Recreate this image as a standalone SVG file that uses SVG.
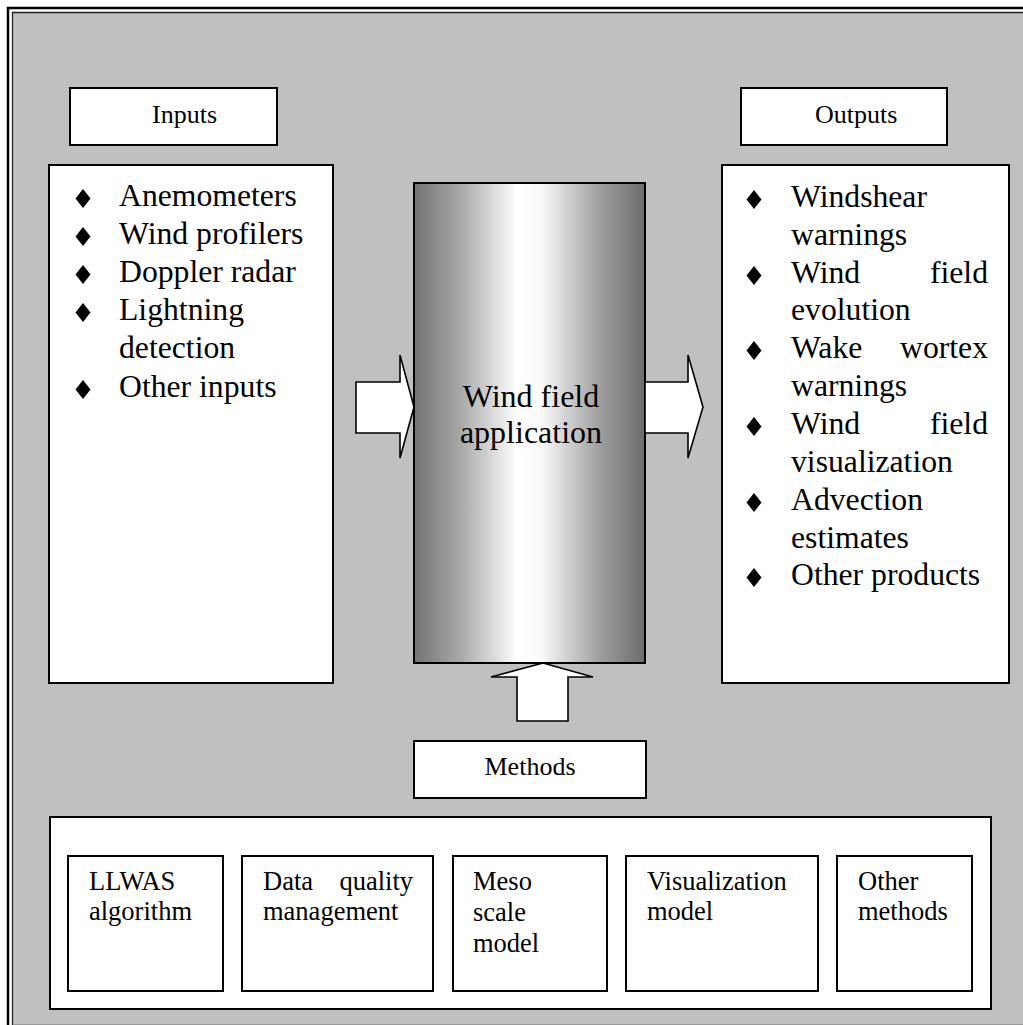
<svg xmlns="http://www.w3.org/2000/svg" width="1023" height="1025" viewBox="0 0 1023 1025">
<defs>
<linearGradient id="cyl" x1="0" y1="0" x2="1" y2="0">
<stop offset="0" stop-color="#737373"/>
<stop offset="0.2" stop-color="#a8a8a8"/>
<stop offset="0.45" stop-color="#ffffff"/>
<stop offset="0.55" stop-color="#fafafa"/>
<stop offset="0.8" stop-color="#a0a0a0"/>
<stop offset="1" stop-color="#6c6c6c"/>
</linearGradient>
</defs>
<style>
.box{fill:#ffffff;stroke:#000000;stroke-width:2}
.arrow{fill:#ffffff;stroke:#000000;stroke-width:1.6;stroke-linejoin:miter}
text{font-family:'Liberation Serif','Times New Roman','DejaVu Serif',serif;fill:#000}
.lbl{font-size:26px}
.lst{font-size:31.7px}
.mth{font-size:26.5px}
.big{font-size:32px}
.dia{fill:#000}
</style>
<rect x="0" y="0" width="1023" height="1025" fill="#ffffff"/>
<rect x="13" y="13" width="1010" height="1012" fill="#c0c0c0"/>
<path d="M8,1025 V8 H1023" fill="none" stroke="#000" stroke-width="2.5"/>
<path d="M12.5,1025 V12.5 H1023" fill="none" stroke="#222" stroke-width="1.3"/>
<line x1="13" y1="1024.5" x2="1023" y2="1024.5" stroke="#999" stroke-width="1"/>

<g id="inputs-label">
<rect class="box" x="70" y="88" width="207" height="57"/>
<text class="lbl" x="152" y="123">Inputs</text>
</g>
<g id="outputs-label">
<rect class="box" x="741" y="88" width="206" height="57"/>
<text class="lbl" x="815" y="123">Outputs</text>
</g>

<g id="inputs-list">
<rect class="box" x="49" y="165" width="284" height="518"/>
<g class="dia">
<polygon points="83,189 90.5,198.5 83,208 75.5,198.5"/>
<polygon points="83,227 90.5,236.5 83,246 75.5,236.5"/>
<polygon points="83,265 90.5,274.5 83,284 75.5,274.5"/>
<polygon points="83,303 90.5,312.5 83,322 75.5,312.5"/>
<polygon points="83,380 90.5,389.5 83,399 75.5,389.5"/>
</g>
<text class="lst" x="119" y="206">Anemometers</text>
<text class="lst" x="119" y="244">Wind profilers</text>
<text class="lst" x="119" y="282">Doppler radar</text>
<text class="lst" x="119" y="320">Lightning</text>
<text class="lst" x="119" y="358">detection</text>
<text class="lst" x="119" y="397">Other inputs</text>
</g>

<g id="outputs-list">
<rect class="box" x="722" y="165" width="287" height="518"/>
<g class="dia">
<polygon points="754,190 761.5,199.5 754,209 746.5,199.5"/>
<polygon points="754,266 761.5,275.5 754,285 746.5,275.5"/>
<polygon points="754,341 761.5,350.5 754,360 746.5,350.5"/>
<polygon points="754,417 761.5,426.5 754,436 746.5,426.5"/>
<polygon points="754,493 761.5,502.5 754,512 746.5,502.5"/>
<polygon points="754,568 761.5,577.5 754,587 746.5,577.5"/>
</g>
<text class="lst" x="791" y="207">Windshear</text>
<text class="lst" x="791" y="245">warnings</text>
<text class="lst" y="283"><tspan x="791">Wind</tspan><tspan x="988" text-anchor="end">field</tspan></text>
<text class="lst" x="791" y="320">evolution</text>
<text class="lst" y="358"><tspan x="791">Wake</tspan><tspan x="988" text-anchor="end">wortex</tspan></text>
<text class="lst" x="791" y="396">warnings</text>
<text class="lst" y="434"><tspan x="791">Wind</tspan><tspan x="988" text-anchor="end">field</tspan></text>
<text class="lst" x="791" y="472">visualization</text>
<text class="lst" x="791" y="510">Advection</text>
<text class="lst" x="791" y="548">estimates</text>
<text class="lst" x="791" y="585">Other products</text>
</g>

<g id="wind-field-application">
<rect x="414" y="183" width="231" height="480" fill="url(#cyl)" stroke="#000" stroke-width="2"/>
<text class="big" x="531" y="407" text-anchor="middle">Wind field</text>
<text class="big" x="531" y="443" text-anchor="middle">application</text>
</g>

<g id="methods-label">
<rect class="box" x="414" y="741" width="232" height="57"/>
<text class="lbl" x="530" y="775" text-anchor="middle">Methods</text>
</g>

<g id="methods">
<rect class="box" x="50" y="817" width="941" height="192"/>
<g id="m-llwas">
<rect class="box" x="68" y="856" width="155" height="135"/>
<text class="mth" x="89" y="890">LLWAS</text>
<text class="mth" x="89" y="920">algorithm</text>
</g>
<g id="m-dq">
<rect class="box" x="242" y="856" width="191" height="135"/>
<text class="mth" y="890"><tspan x="263">Data</tspan><tspan x="413" text-anchor="end">quality</tspan></text>
<text class="mth" x="263" y="920">management</text>
</g>
<g id="m-meso">
<rect class="box" x="453" y="856" width="154" height="135"/>
<text class="mth" x="473" y="890">Meso</text>
<text class="mth" x="473" y="921">scale</text>
<text class="mth" x="473" y="952">model</text>
</g>
<g id="m-vis">
<rect class="box" x="626" y="856" width="192" height="135"/>
<text class="mth" x="647" y="890">Visualization</text>
<text class="mth" x="647" y="920">model</text>
</g>
<g id="m-other">
<rect class="box" x="837" y="856" width="135" height="135"/>
<text class="mth" x="858" y="890">Other</text>
<text class="mth" x="858" y="920">methods</text>
</g>
</g>

<g id="connectors">
<polygon class="arrow" points="356,382 400,382 400,355 414,407 400,458 400,433 356,433"/>
<polygon class="arrow" points="645,382 688,382 688,355 703,407 688,458 688,433 645,433"/>
<polygon class="arrow" points="517,721 517,677 491,677 543,663 593,677 568,677 568,721"/>
</g>
</svg>
